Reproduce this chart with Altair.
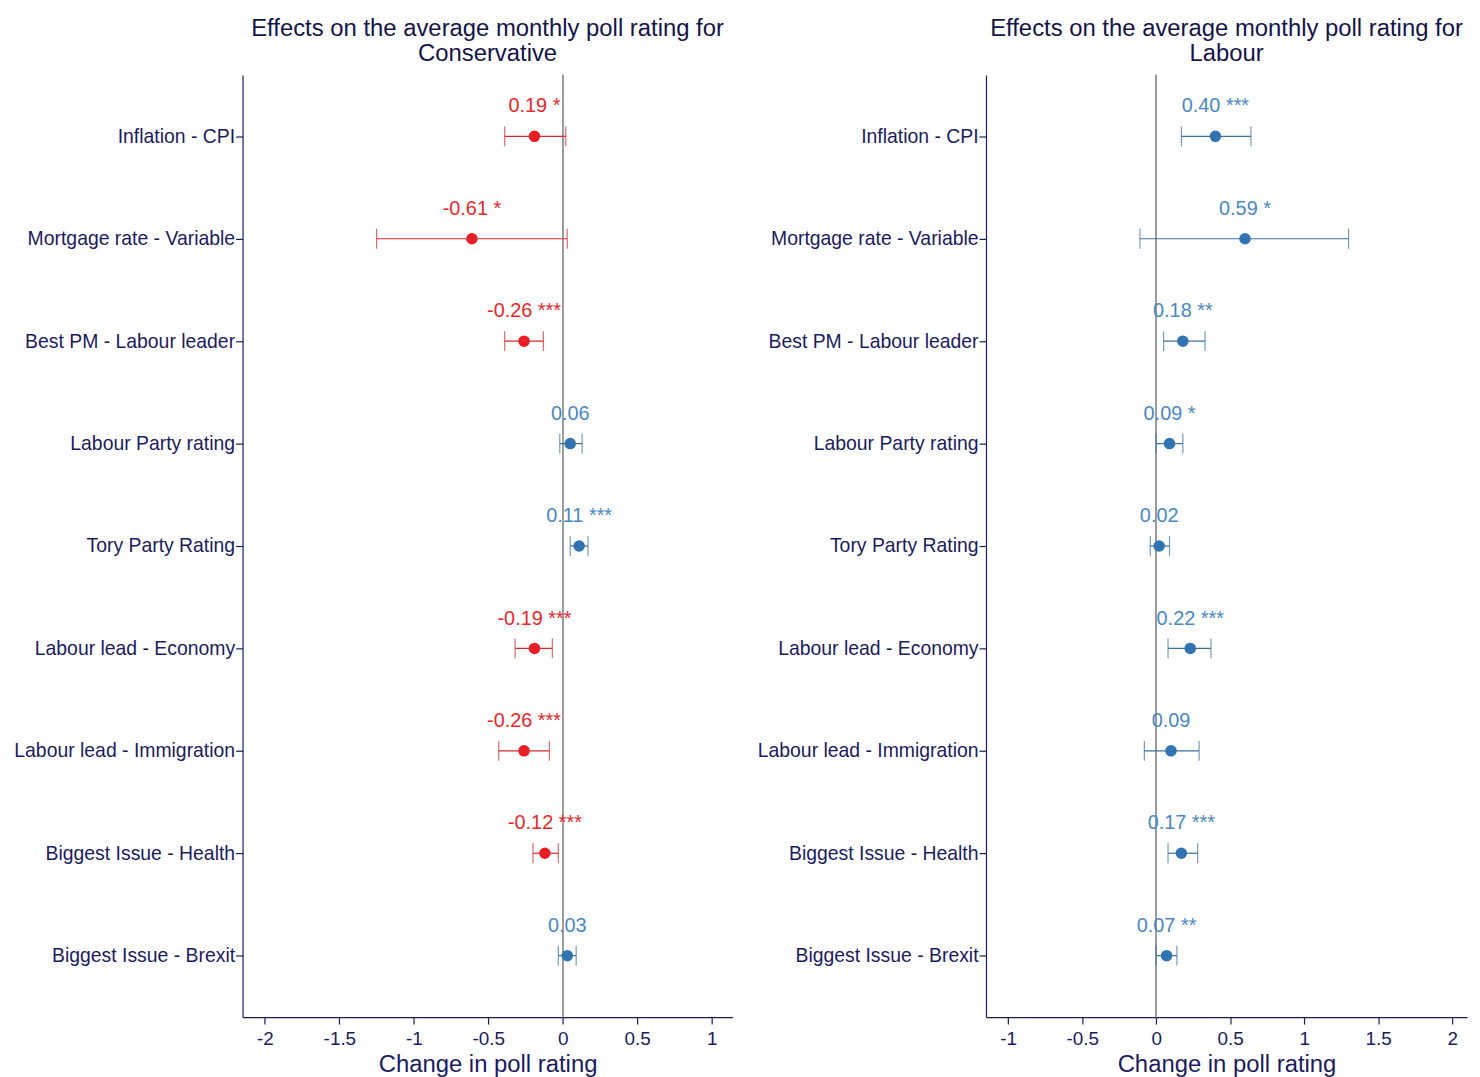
import altair as alt
import pandas as pd

categories = ["Inflation - CPI", "Mortgage rate - Variable", "Best PM - Labour leader",
              "Labour Party rating", "Tory Party Rating", "Labour lead - Economy",
              "Labour lead - Immigration", "Biggest Issue - Health", "Biggest Issue - Brexit"]

con_est = [-0.19, -0.61, -0.26, 0.05, 0.11, -0.19, -0.26, -0.12, 0.03]
con_lo = [-0.39, -1.25, -0.39, -0.02, 0.05, -0.32, -0.43, -0.20, -0.03]
con_hi = [0.02, 0.03, -0.13, 0.13, 0.17, -0.07, -0.09, -0.03, 0.09]
con_label = ["0.19 *", "-0.61 *", "-0.26 ***", "0.06", "0.11 ***", "-0.19 ***",
             "-0.26 ***", "-0.12 ***", "0.03"]

lab_est = [0.40, 0.60, 0.18, 0.09, 0.02, 0.23, 0.10, 0.17, 0.07]
lab_lo = [0.17, -0.11, 0.05, 0.00, -0.04, 0.08, -0.08, 0.08, 0.00]
lab_hi = [0.64, 1.30, 0.33, 0.18, 0.09, 0.37, 0.29, 0.28, 0.14]
lab_label = ["0.40 ***", "0.59 *", "0.18 **", "0.09 *", "0.02", "0.22 ***",
             "0.09", "0.17 ***", "0.07 **"]

con_ticks = [-2, -1.5, -1, -0.5, 0, 0.5, 1]
lab_ticks = [-1, -0.5, 0, 0.5, 1, 1.5, 2]

NAVY = "#1b1b5e"
RED_PT, RED_LN, RED_TX = "#ec1c24", "#d22a2e", "#e8282a"
BLUE_PT, BLUE_LN, BLUE_TX = "#2f74b5", "#3a6f9e", "#4a88c2"


def panel(est, lo, hi, lab, party, domain, ticks, width):
    df = pd.DataFrame({"cat": categories, "est": est, "lo": lo, "hi": hi, "lab": lab})
    neg = "datum.est < 0"
    y = alt.Y("cat:N", sort=categories,
              scale=alt.Scale(type="point", padding=0.6),
              axis=alt.Axis(title=None, labelFontSize=19.5, labelColor=NAVY,
                            domainColor=NAVY, tickColor=NAVY, tickSize=7,
                            labelPadding=1, labelLimit=400))
    x = alt.X("est:Q", scale=alt.Scale(domain=domain, nice=False, zero=False),
              axis=alt.Axis(values=ticks, labelExpr="'' + datum.value", grid=False,
                            title="Change in poll rating", titleFontSize=24,
                            titleFontWeight="normal", titleColor=NAVY,
                            labelFontSize=19, labelColor=NAVY, domainColor=NAVY,
                            tickColor=NAVY, tickSize=7, labelPadding=6,
                            titlePadding=4))
    base = alt.Chart(df)
    lncol = alt.condition(neg, alt.value(RED_LN), alt.value(BLUE_LN))
    zero = base.mark_rule(color="#9a9a9a", strokeWidth=1).encode(x=alt.datum(0))
    bar = base.mark_rule(strokeWidth=1.2).encode(
        x=alt.X("lo:Q"), x2="hi:Q", y=y, color=lncol)
    cap_lo = base.mark_tick(thickness=1.2, size=20).encode(x="lo:Q", y=y, color=lncol)
    cap_hi = base.mark_tick(thickness=1.2, size=20).encode(x="hi:Q", y=y, color=lncol)
    pts = base.mark_circle(size=135, opacity=1).encode(
        x=x, y=y,
        color=alt.condition(neg, alt.value(RED_PT), alt.value(BLUE_PT)))
    txt = base.mark_text(dy=-30, fontSize=20, align="center", baseline="middle").encode(
        x="est:Q", y=y, text="lab:N",
        color=alt.condition(neg, alt.value(RED_TX), alt.value(BLUE_TX)))
    return alt.layer(zero, pts, bar, cap_lo, cap_hi, txt).properties(
        width=width, height=948,
        title=alt.TitleParams(["Effects on the average monthly poll rating for", party],
                              fontSize=24, fontWeight="normal", color="#141448",
                              anchor="middle", frame="group", lineHeight=26, offset=8))


left = panel(con_est, con_lo, con_hi, con_label, "Conservative", [-2.15, 1.14], con_ticks, 493)
right = panel(lab_est, lab_lo, lab_hi, lab_label, "Labour", [-1.15, 2.1], lab_ticks, 484)

chart = alt.hconcat(left, right, spacing=24).configure(
    font="Liberation Sans"
).configure_view(strokeWidth=0).configure_axis(domainWidth=1.2, tickWidth=1.2)

chart.save("out.html", embed_options={"renderer": "svg", "actions": False})
